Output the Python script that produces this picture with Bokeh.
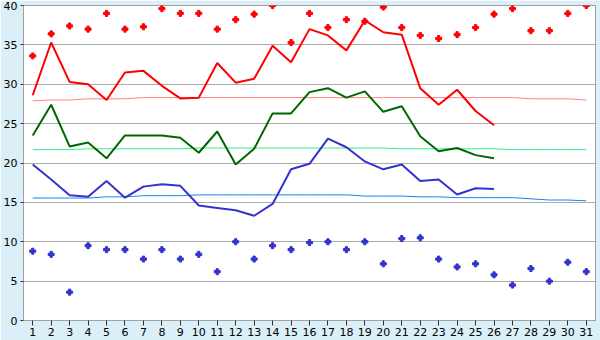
from bokeh.plotting import figure
from bokeh.models import Range1d, FixedTicker
from bokeh.embed import file_html
from bokeh.resources import INLINE

days = list(range(1, 32))
days_obs = list(range(1, 27))

max_temp = [28.6, 35.3, 30.3, 30.0, 28.0, 31.5, 31.7, 29.8, 28.2, 28.3, 32.7, 30.2, 30.7,
            34.9, 32.8, 37.0, 36.2, 34.3, 38.1, 36.6, 36.3, 29.5, 27.4, 29.3, 26.6, 24.8]
mean_temp = [23.5, 27.4, 22.1, 22.6, 20.6, 23.5, 23.5, 23.5, 23.2, 21.3, 24.0, 19.8, 21.8,
             26.3, 26.3, 29.0, 29.5, 28.3, 29.1, 26.5, 27.2, 23.4, 21.5, 21.9, 21.0, 20.6]
min_temp = [19.8, 17.9, 15.9, 15.7, 17.7, 15.6, 17.0, 17.3, 17.1, 14.6, 14.3, 14.0, 13.3,
            14.8, 19.2, 19.9, 23.1, 22.0, 20.2, 19.2, 19.8, 17.7, 17.9, 16.0, 16.8, 16.7]

record_max = [33.6, 36.4, 37.4, 37.0, 39.0, 37.0, 37.3, 39.6, 39.0, 39.0, 37.0, 38.2, 38.9,
              40.0, 35.3, 39.0, 37.2, 38.2, 38.0, 39.8, 37.2, 36.2, 35.8, 36.3, 37.2, 38.9,
              39.6, 36.8, 36.8, 39.0, 40.0]
record_min = [8.8, 8.4, 3.6, 9.5, 9.0, 9.0, 7.8, 9.0, 7.8, 8.4, 6.2, 10.0, 7.8, 9.5, 9.0,
              9.9, 10.0, 9.0, 10.0, 7.2, 10.4, 10.5, 7.8, 6.8, 7.2, 5.8, 4.5, 6.6, 5.0, 7.4, 6.2]

avg_max = [27.9, 28.0, 28.0, 28.15, 28.15, 28.15, 28.3, 28.3, 28.3, 28.3, 28.3, 28.3, 28.3,
           28.3, 28.3, 28.3, 28.3, 28.3, 28.3, 28.3, 28.3, 28.3, 28.3, 28.3, 28.3, 28.3,
           28.3, 28.15, 28.15, 28.15, 28.0]
avg_mean = [21.7, 21.7, 21.7, 21.8, 21.8, 21.8, 21.8, 21.8, 21.8, 21.9, 21.9, 21.9, 21.9,
            21.9, 21.9, 21.9, 21.9, 21.9, 21.9, 21.9, 21.8, 21.8, 21.8, 21.8, 21.8, 21.8,
            21.7, 21.7, 21.7, 21.7, 21.7]
avg_min = [15.55, 15.55, 15.55, 15.55, 15.7, 15.7, 15.85, 15.85, 15.85, 15.95, 15.95, 15.95,
           15.95, 15.95, 15.95, 15.95, 15.95, 15.95, 15.8, 15.8, 15.8, 15.7, 15.7, 15.6, 15.6,
           15.6, 15.6, 15.45, 15.3, 15.3, 15.2]

y_ticks = [0, 5, 10, 15, 20, 25, 30, 35, 40]

p = figure(width=600, height=340, output_backend="svg", toolbar_location=None,
           x_range=Range1d(0.5, 31.5), y_range=Range1d(0, 40),
           min_border_left=20, min_border_right=5, min_border_top=5, min_border_bottom=20)

p.border_fill_color = "#daeff7"
p.background_fill_color = "white"
p.outline_line_color = "#a0a0a0"
p.outline_line_width = 1

p.xgrid.visible = False
p.ygrid.ticker = FixedTicker(ticks=y_ticks)
p.ygrid.grid_line_color = "#aaaaaa"
p.ygrid.grid_line_width = 1

p.xaxis.ticker = FixedTicker(ticks=days)
p.yaxis.ticker = FixedTicker(ticks=y_ticks)
for ax in (p.xaxis[0], p.yaxis[0]):
    ax.axis_line_color = "#a0a0a0"
    ax.major_tick_line_color = "#303030"
    ax.minor_tick_line_color = None
    ax.major_tick_in = 0
    ax.major_label_text_font = "DejaVu Sans"
    ax.major_label_text_font_size = "11px"
    ax.major_label_text_color = "black"
p.xaxis.major_tick_out = 5
p.xaxis.major_label_standoff = 2
p.yaxis.major_tick_out = 3
p.yaxis.major_label_standoff = 3

# climatological averages
p.line(days, avg_max, line_color="#ff8080", line_width=1)
p.line(days, avg_mean, line_color="#33ee88", line_width=1)
p.line(days, avg_min, line_color="#1a80f0", line_width=1)

# observed
p.line(days_obs, max_temp, line_color="#ff0000", line_width=2)
p.line(days_obs, mean_temp, line_color="#006600", line_width=2)
p.line(days_obs, min_temp, line_color="#3333cc", line_width=2)

# records
p.scatter(days, record_max, marker="plus", size=6, fill_color="#ff0000", line_color="#ff0000")
p.scatter(days, record_min, marker="plus", size=6, fill_color="#3333cc", line_color="#3333cc")

open("out.html", "w").write(file_html(p, INLINE))
